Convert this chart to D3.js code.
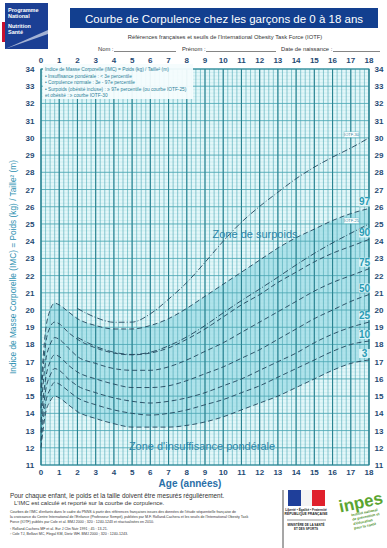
<!DOCTYPE html>
<html><head><meta charset="utf-8">
<script src="https://cdn.jsdelivr.net/npm/d3@7"></script>
<style>body{margin:0;background:#fff}svg{display:block}</style>
</head><body>
<script>
const ages = [0, 0.25, 0.5, 0.75, 1, 1.5, 2, 3, 4, 5, 6, 7, 8, 9, 10, 11, 12, 13, 14, 15, 16, 17, 18];
const p97 = [15.5, 18.8, 20.0, 20.4, 20.3, 19.9, 19.5, 19.1, 18.9, 18.9, 19.1, 19.5, 20.1, 20.8, 21.5, 22.2, 22.9, 23.6, 24.2, 24.7, 25.2, 25.6, 25.9];
const p90 = [15.0, 18.0, 19.0, 19.3, 19.2, 18.7, 18.3, 17.8, 17.5, 17.4, 17.5, 17.8, 18.3, 18.9, 19.6, 20.3, 20.9, 21.6, 22.2, 22.8, 23.3, 23.7, 24.1];
const p75 = [14.3, 17.0, 18.0, 18.4, 18.3, 17.8, 17.3, 16.9, 16.6, 16.5, 16.5, 16.7, 17.1, 17.6, 18.1, 18.7, 19.3, 19.9, 20.5, 21.1, 21.6, 22.0, 22.4];
const p50 = [13.5, 16.0, 17.0, 17.4, 17.3, 16.8, 16.4, 16.0, 15.7, 15.5, 15.5, 15.6, 15.9, 16.3, 16.7, 17.2, 17.7, 18.3, 18.9, 19.5, 20.0, 20.5, 20.9];
const p25 = [12.9, 15.3, 16.2, 16.6, 16.5, 16.0, 15.6, 15.2, 14.9, 14.7, 14.6, 14.7, 14.9, 15.2, 15.6, 16.0, 16.5, 17.0, 17.5, 18.1, 18.6, 19.0, 19.3];
const p10 = [12.4, 14.6, 15.4, 15.8, 15.7, 15.3, 14.9, 14.5, 14.2, 14.0, 13.9, 14.0, 14.2, 14.5, 14.8, 15.2, 15.6, 16.1, 16.6, 17.1, 17.6, 18.0, 18.2];
const p3  = [12.0, 14.0, 14.7, 15.0, 14.9, 14.5, 14.1, 13.7, 13.4, 13.2, 13.2, 13.2, 13.3, 13.5, 13.8, 14.2, 14.6, 15.0, 15.5, 16.0, 16.5, 16.9, 17.1];
const iotfAges = [2, 3, 4, 5, 6, 7, 8, 9, 10, 11, 12, 13, 14, 15, 16, 17, 18];
const iotf25 = [18.41, 17.89, 17.55, 17.42, 17.55, 17.92, 18.44, 19.10, 19.84, 20.55, 21.22, 21.91, 22.62, 23.29, 23.90, 24.46, 25.00];
const iotf30 = [20.09, 19.57, 19.29, 19.30, 19.78, 20.63, 21.60, 22.77, 24.00, 25.10, 26.02, 26.84, 27.63, 28.30, 28.88, 29.41, 30.00];
const xTicks = d3.range(0, 19);
const yTicks = d3.range(11, 35);
const percentileNames = ["97", "90", "75", "50", "25", "10", "3"];

const W = 387, H = 548;
const svg = d3.select("body").append("svg").attr("width", W).attr("height", H)
  .style("font-family", "Liberation Sans, Arial, sans-serif");

const x = d3.scaleLinear().domain([0, 18]).range([41, 369]);
const y = d3.scaleLinear().domain([11, 34]).range([465, 69]);

// ---- header ----
const logo = svg.append("g");
logo.append("rect").attr("x", 2).attr("y", 22).attr("width", 4).attr("height", 20).attr("fill", "#c8102e");
logo.append("rect").attr("x", 5).attr("y", 3).attr("width", 43).attr("height", 46).attr("fill", "#1b3f94");
logo.append("path").attr("d", "M5,49 L48,30 L48,34 L5,49Z").attr("fill", "#ffffff").attr("opacity", 0.6);
[["Programme", 12], ["National", 18], ["Nutrition", 28], ["Santé", 34]].forEach(([t, yy]) =>
  logo.append("text").attr("x", 8).attr("y", yy).text(t).attr("fill", "#fff").attr("font-size", 5.5).attr("font-weight", "bold"));

svg.append("rect").attr("x", 70).attr("y", 8).attr("width", 308).attr("height", 20).attr("fill", "#123f8f");
svg.append("text").attr("x", 224).attr("y", 22.5).attr("text-anchor", "middle").attr("fill", "#fff")
  .attr("font-size", 11.5).text("Courbe de Corpulence chez les garçons de 0 à 18 ans");
svg.append("text").attr("x", 225).attr("y", 39).attr("text-anchor", "middle").attr("fill", "#333")
  .attr("font-size", 5.8).text("Références françaises et seuils de l'International Obesity Task Force (IOTF)");
const nameRow = svg.append("g").attr("font-size", 5.8).attr("fill", "#333");
nameRow.append("text").attr("x", 98).attr("y", 51).text("Nom :");
nameRow.append("text").attr("x", 182).attr("y", 51).text("Prénom :");
nameRow.append("text").attr("x", 281).attr("y", 51).text("Date de naissance :");
[[114, 176], [206, 276], [333, 380]].forEach(([a, b]) =>
  svg.append("line").attr("x1", a).attr("x2", b).attr("y1", 51.5).attr("y2", 51.5).attr("stroke", "#333").attr("stroke-width", 0.6));

// ---- plot background ----
const plot = svg.append("g");
plot.append("rect").attr("x", x(0)).attr("y", y(34)).attr("width", x(18) - x(0)).attr("height", y(11) - y(34)).attr("fill", "#e3f7f9");
const band = ages.map((a, i) => ({a, lo: p3[i], hi: p97[i]}));
plot.append("path").datum(band)
  .attr("d", d3.area().x(d => x(d.a)).y0(d => y(d.lo)).y1(d => y(d.hi)).curve(d3.curveMonotoneX))
  .attr("fill", "#aee3eb");

// minor grid
const minorY = d3.range(11, 34.01, 0.2);
plot.append("g").selectAll("line").data(minorY).join("line")
  .attr("x1", x(0)).attr("x2", x(18)).attr("y1", d => y(d)).attr("y2", d => y(d))
  .attr("stroke", "#a4dbe2").attr("stroke-width", 0.35);
const minorX = d3.range(0, 18.01, 0.25);
plot.append("g").selectAll("line").data(minorX).join("line")
  .attr("x1", d => x(d)).attr("x2", d => x(d)).attr("y1", y(11)).attr("y2", y(34))
  .attr("stroke", "#4aa6b3").attr("stroke-width", 0.6);
// major grid
plot.append("g").selectAll("line").data(yTicks).join("line")
  .attr("x1", x(0)).attr("x2", x(18)).attr("y1", d => y(d)).attr("y2", d => y(d))
  .attr("stroke", "#4aa6b3").attr("stroke-width", 0.8);
plot.append("g").selectAll("line").data(xTicks).join("line")
  .attr("x1", d => x(d)).attr("x2", d => x(d)).attr("y1", y(11)).attr("y2", y(34))
  .attr("stroke", "#2a8391").attr("stroke-width", 1.1);
plot.append("rect").attr("x", x(0)).attr("y", y(34)).attr("width", x(18) - x(0)).attr("height", y(11) - y(34))
  .attr("fill", "none").attr("stroke", "#2a8391").attr("stroke-width", 1);

// ---- info box ----
const info = svg.append("g");
info.append("rect").attr("x", 43).attr("y", 64).attr("width", 150).attr("height", 35).attr("fill", "#f4fcfd").attr("opacity", 0.95);
const infoLines = [
  "Indice de Masse Corporelle (IMC) = Poids (kg) / Taille² (m)",
  "• Insuffisance pondérale : < 3e percentile",
  "• Corpulence normale : 3e - 97e percentile",
  "• Surpoids (obésité incluse) : ≥ 97e percentile (ou courbe IOTF-25)",
  "  et obésité : ≥ courbe IOTF-30"
];
infoLines.forEach((t, i) => info.append("text").attr("x", 45).attr("y", 71 + i * 6.5).text(t)
  .attr("font-size", 4.8).attr("fill", "#2a7f98"));

// ---- curves ----
const line = d3.line().x(d => x(d[0])).y(d => y(d[1])).curve(d3.curveMonotoneX);
const series = [p97, p90, p75, p50, p25, p10, p3];
const curves = svg.append("g");
series.forEach(s => curves.append("path").datum(ages.map((a, i) => [a, s[i]]))
  .attr("d", line).attr("fill", "none").attr("stroke", "#20465c").attr("stroke-width", 0.9).attr("stroke-dasharray", "5,3"));
[iotf25, iotf30].forEach(s => curves.append("path").datum(iotfAges.map((a, i) => [a, s[i]]))
  .attr("d", line).attr("fill", "none").attr("stroke", "#20465c").attr("stroke-width", 0.9).attr("stroke-dasharray", "6,2,1,2"));

// percentile labels
series.forEach((s, i) => {
  const v = s[s.length - 1];
  svg.append("rect").attr("x", 359).attr("y", y(v) - 11).attr("width", 11).attr("height", 9).attr("fill", "#eefbfc").attr("opacity", 0.8);
  svg.append("text").attr("x", 364.5).attr("y", y(v) - 3).attr("text-anchor", "middle")
    .attr("font-size", 10).attr("font-weight", "bold").attr("fill", "#2a9cb5").text(percentileNames[i]);
});
[["IOTF-30", iotf30], ["IOTF-25", iotf25]].forEach(([n, s]) => {
  const v = s[s.length - 1];
  svg.append("rect").attr("x", 344).attr("y", y(v) - 6).attr("width", 15).attr("height", 5.5).attr("fill", "#fff").attr("stroke", "#5fb7c4").attr("stroke-width", 0.4);
  svg.append("text").attr("x", 351.5).attr("y", y(v) - 2).attr("text-anchor", "middle").attr("font-size", 4).attr("fill", "#2a7f98").text(n);
});

// zone labels
svg.append("text").attr("x", 255).attr("y", 238).attr("text-anchor", "middle").attr("font-size", 11).attr("fill", "#2a86a8").text("Zone de surpoids");
svg.append("text").attr("x", 202).attr("y", 450).attr("text-anchor", "middle").attr("font-size", 11).attr("fill", "#2a86a8").text("Zone d'insuffisance pondérale");

// ---- axes ----
const axCol = "#1f4a73";
const ax = svg.append("g").attr("font-size", 8).attr("font-weight", "bold").attr("fill", axCol);
yTicks.forEach(v => {
  ax.append("text").attr("x", 30).attr("y", y(v) + 3).attr("text-anchor", "middle").text(v);
  ax.append("text").attr("x", 379).attr("y", y(v) + 3).attr("text-anchor", "middle").text(v);
});
xTicks.forEach(v => {
  ax.append("text").attr("x", x(v)).attr("y", 63).attr("text-anchor", "middle").text(v);
  ax.append("text").attr("x", x(v)).attr("y", 475).attr("text-anchor", "middle").text(v);
});
svg.append("text").attr("x", 190).attr("y", 487).attr("text-anchor", "middle").attr("font-size", 10).attr("font-weight", "bold")
  .attr("fill", "#2a6fa8").text("Age (années)");
svg.append("text").attr("transform", `translate(16,${y(22.5)}) rotate(-90)`).attr("text-anchor", "middle")
  .attr("font-size", 8.3).attr("fill", "#2a8fb0").text("Indice de Masse Corporelle (IMC) = Poids (kg) / Taille² (m)");

// ---- footer ----
const foot = svg.append("g").attr("fill", "#333");
foot.append("text").attr("x", 10).attr("y", 498).attr("font-size", 6.4).text("Pour chaque enfant, le poids et la taille doivent être mesurés régulièrement.");
foot.append("text").attr("x", 14).attr("y", 505).attr("font-size", 6).text("L'IMC est calculé et reporté sur la courbe de corpulence.");
["Courbes de l'IMC d'enfants dans le cadre du PNNS à partir des références françaises issues des données de l'étude séquentielle française de",
 "la croissance du Centre International de l'Enfance (Professeur Sempé), publiées par M.F. Rolland-Cachera et les seuils de l'International Obesity Task",
 "Force (IOTF) publiés par Cole et al. BMJ 2000 ; 320 : 1240-1243 et réactualisées en 2010.",
].forEach((t, i) => foot.append("text").attr("x", 10).attr("y", 513 + i * 5).attr("font-size", 3.6).text(t));
["¹ Rolland-Cachera MF et al. Eur J Clin Nutr 1991 ; 45 : 13-21.",
 "² Cole TJ, Bellizzi MC, Flegal KM, Dietz WH. BMJ 2000 ; 320 : 1240-1243."
].forEach((t, i) => foot.append("text").attr("x", 10).attr("y", 530 + i * 5).attr("font-size", 3.6).text(t));

// RF logo
svg.append("line").attr("x1", 283).attr("x2", 283).attr("y1", 490).attr("y2", 548).attr("stroke", "#222").attr("stroke-width", 0.8);
svg.append("rect").attr("x", 288).attr("y", 490).attr("width", 13).attr("height", 16).attr("fill", "#1f3f9a");
svg.append("rect").attr("x", 301).attr("y", 490).attr("width", 11).attr("height", 16).attr("fill", "#f4f4f4");
svg.append("rect").attr("x", 312).attr("y", 490).attr("width", 13).attr("height", 16).attr("fill", "#e0202c");
svg.append("text").attr("x", 306).attr("y", 511).attr("text-anchor", "middle").attr("font-size", 3.2).attr("font-weight", "bold").attr("fill", "#222").text("Liberté • Égalité • Fraternité");
svg.append("text").attr("x", 306).attr("y", 515).attr("text-anchor", "middle").attr("font-size", 3.4).attr("font-weight", "bold").attr("fill", "#222").text("RÉPUBLIQUE FRANÇAISE");
svg.append("line").attr("x1", 287).attr("x2", 326).attr("y1", 520).attr("y2", 520).attr("stroke", "#222").attr("stroke-width", 0.5);
svg.append("text").attr("x", 306).attr("y", 526).attr("text-anchor", "middle").attr("font-size", 3).attr("font-weight", "bold").attr("fill", "#222").text("MINISTÈRE DE LA SANTÉ");
svg.append("text").attr("x", 306).attr("y", 530).attr("text-anchor", "middle").attr("font-size", 3).attr("font-weight", "bold").attr("fill", "#222").text("ET DES SPORTS");
// inpes logo
const inp = svg.append("g").attr("transform", "translate(362,508) rotate(-12)");
inp.append("text").attr("x", 0).attr("y", 0).attr("text-anchor", "middle").attr("font-size", 17).attr("font-weight", "bold").attr("fill", "#5aa531").text("inpes");
["Institut national", "de prévention et", "d'éducation", "pour la santé"].forEach((t, i) =>
  inp.append("text").attr("x", -12).attr("y", 6 + i * 4.5).attr("font-size", 3.6).attr("font-weight", "bold").attr("fill", "#4a8f28").text(t));
</script>
</body></html>
